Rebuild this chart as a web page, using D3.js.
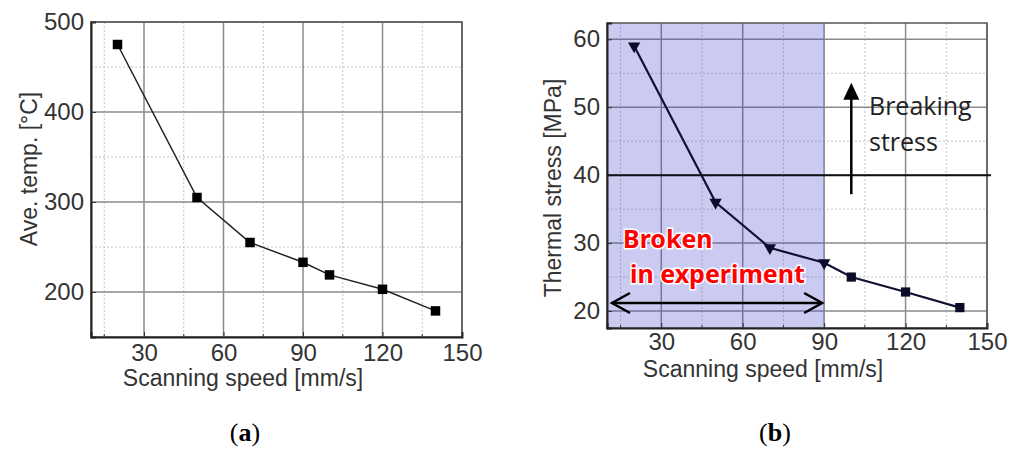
<!DOCTYPE html>
<html>
<head>
<meta charset="utf-8">
<script src="https://cdn.jsdelivr.net/npm/d3@7"></script>
<style>
  body { margin: 0; background: #fff; }
  svg text { font-family: "Liberation Sans", Arial, sans-serif; }
</style>
</head>
<body>
<svg id="chart" width="1017" height="450"></svg>
<script>
// ---- data ----
const speedTicks = [30, 60, 90, 120, 150];
const speedMinor = [15, 45, 75, 105, 135];

// (a) average temperature
const speedsA = [20, 50, 70, 90, 100, 120, 140];
const tempA = [475, 305, 255, 233, 219, 203, 179];
const tempTicks = [200, 300, 400, 500];
const tempMinor = [250, 350, 450];

// (b) thermal stress
const speedsB = [20, 50, 70, 90, 100, 120, 140];
const stressB = [59, 36, 29.3, 27.1, 25, 22.8, 20.5];
const brokenFlags = [true, true, true, true, false, false, false];
const stressTicks = [20, 30, 40, 50, 60];
const stressMinor = [25, 35, 45, 55];
const breakingStress = 40;
const brokenRange = [10, 90];

const svg = d3.select("#chart");

/* ------------------------------
   PANEL HELPER
------------------------------ */
function drawPanel(o) {
    const g = svg.append("g");
    const x = d3.scaleLinear().domain(o.xDomain).range([o.left, o.right]);
    const y = d3.scaleLinear().domain(o.yDomain).range([o.bottom, o.top]);

    // minor dotted grid
    g.selectAll(".vminor").data(speedMinor).enter().append("line")
        .attr("x1", d => x(d)).attr("x2", d => x(d))
        .attr("y1", o.top).attr("y2", o.bottom)
        .attr("stroke", "#c4c4c4").attr("stroke-dasharray", "2,2");
    g.selectAll(".hminor").data(o.yMinor).enter().append("line")
        .attr("x1", o.left).attr("x2", o.right)
        .attr("y1", d => y(d)).attr("y2", d => y(d))
        .attr("stroke", "#c4c4c4").attr("stroke-dasharray", "2,2");

    // major grid
    g.selectAll(".vmajor").data(speedTicks).enter().append("line")
        .attr("x1", d => x(d)).attr("x2", d => x(d))
        .attr("y1", o.top).attr("y2", o.bottom)
        .attr("stroke", "#8a8a8a").attr("stroke-width", 1.5);
    g.selectAll(".hmajor").data(o.yTicks).enter().append("line")
        .attr("x1", o.left).attr("x2", o.right)
        .attr("y1", d => y(d)).attr("y2", d => y(d))
        .attr("stroke", "#8a8a8a").attr("stroke-width", 1.5);

    if (o.beforeFrame) o.beforeFrame(g, x, y);

    // frame
    g.append("rect")
        .attr("x", o.left).attr("y", o.top)
        .attr("width", o.right - o.left).attr("height", o.bottom - o.top)
        .attr("fill", "none").attr("stroke", "#555").attr("stroke-width", 1.5);

    // axes
    const xAxis = g.append("g").attr("transform", `translate(0,${o.bottom})`)
        .call(d3.axisBottom(x).tickValues(speedTicks).tickSize(-5).tickPadding(o.xPad));
    const yAxis = g.append("g").attr("transform", `translate(${o.left},0)`)
        .call(d3.axisLeft(y).tickValues(o.yTicks).tickSize(-5).tickPadding(7));
    [xAxis, yAxis].forEach(a => {
        a.select(".domain").attr("stroke", "#222").attr("stroke-width", 2);
        a.selectAll(".tick line").attr("stroke", "#333");
        a.selectAll("text").attr("fill", "#333").style("font-size", "24px");
    });
    // minor ticks on bottom
    g.selectAll(".mtick").data(speedMinor).enter().append("line")
        .attr("x1", d => x(d)).attr("x2", d => x(d))
        .attr("y1", o.bottom).attr("y2", o.bottom - 3)
        .attr("stroke", "#333");

    // titles
    g.append("text")
        .attr("x", o.xTitleX)
        .attr("y", o.xTitleY)
        .attr("text-anchor", "middle")
        .attr("fill", "#333").style("font-size", "23px")
        .text("Scanning speed [mm/s]");
    g.append("text")
        .attr("transform", `translate(${o.yTitleX},${o.yTitleY}) rotate(-90)`)
        .attr("text-anchor", "middle")
        .attr("dy", "0.35em")
        .attr("fill", "#333").style("font-size", "23px")
        .text(o.yTitle);

    return { g, x, y };
}

/* ------------------------------
   PANEL (a)
------------------------------ */
const pa = drawPanel({
    left: 91, right: 462, top: 22, bottom: 337,
    xDomain: [10, 150], yDomain: [150, 500],
    yTicks: tempTicks, yMinor: tempMinor, xPad: 7,
    xTitleX: 243, xTitleY: 386,
    yTitleX: 29, yTitleY: 169,
    yTitle: "Ave. temp. [°C]"
});

const ptsA = speedsA.map((s, i) => [s, tempA[i]]);
pa.g.append("path")
    .datum(ptsA)
    .attr("d", d3.line().x(d => pa.x(d[0])).y(d => pa.y(d[1])))
    .attr("fill", "none").attr("stroke", "#222").attr("stroke-width", 1.5);
pa.g.selectAll(".sq").data(ptsA).enter().append("path")
    .attr("d", d3.symbol().type(d3.symbolSquare).size(90))
    .attr("transform", d => `translate(${pa.x(d[0])},${pa.y(d[1])})`)
    .attr("fill", "#000");

/* ------------------------------
   PANEL (b)
------------------------------ */
const pb = drawPanel({
    left: 607, right: 987, top: 23, bottom: 328,
    xDomain: [10, 150], yDomain: [17.5, 62.4],
    yTicks: stressTicks, yMinor: stressMinor, xPad: 5,
    xTitleX: 763, xTitleY: 377,
    yTitleX: 553, yTitleY: 188,
    yTitle: "Thermal stress [MPa]",
    beforeFrame: function (g, x, y) {
        g.append("rect")
            .attr("x", x(brokenRange[0])).attr("y", 23)
            .attr("width", x(brokenRange[1]) - x(brokenRange[0]))
            .attr("height", 328 - 23)
            .attr("fill", "#4040d0").attr("fill-opacity", 0.27);
    }
});

// breaking stress line
pb.g.append("line")
    .attr("x1", pb.x(10)).attr("x2", pb.x(151.5))
    .attr("y1", pb.y(breakingStress)).attr("y2", pb.y(breakingStress))
    .attr("stroke", "#111").attr("stroke-width", 2);

const ptsB = speedsB.map((s, i) => [s, stressB[i], brokenFlags[i]]);
pb.g.append("path")
    .datum(ptsB)
    .attr("d", d3.line().x(d => pb.x(d[0])).y(d => pb.y(d[1])))
    .attr("fill", "none").attr("stroke", "#111133").attr("stroke-width", 2.2);
pb.g.selectAll(".mk").data(ptsB).enter().append("path")
    .attr("d", d => d[2]
        ? d3.symbol().type(d3.symbolTriangle).size(66)()
        : d3.symbol().type(d3.symbolSquare).size(85)())
    .attr("transform", d => `translate(${pb.x(d[0])},${pb.y(d[1])})` + (d[2] ? " rotate(180)" : ""))
    .attr("fill", "#0a0a2a");

// arrow up (breaking stress)
const arrowX = pb.x(100);
pb.g.append("line")
    .attr("x1", arrowX).attr("x2", arrowX)
    .attr("y1", pb.y(37.2)).attr("y2", pb.y(51.5))
    .attr("stroke", "#000").attr("stroke-width", 2.5);
pb.g.append("path")
    .attr("d", `M${arrowX - 8},${pb.y(51.1)} L${arrowX},${pb.y(53.6)} L${arrowX + 8},${pb.y(51.1)} Z`)
    .attr("fill", "#000");

pb.g.append("text")
    .attr("x", 869).attr("y", 115)
    .style("font-family", "'Open Sans', 'Noto Sans', sans-serif")
    .style("font-size", "25px").attr("fill", "#222")
    .text("Breaking");
pb.g.append("text")
    .attr("x", 869).attr("y", 151)
    .style("font-family", "'Open Sans', 'Noto Sans', sans-serif")
    .style("font-size", "25px").attr("fill", "#222")
    .text("stress");

// broken in experiment
[["Broken", 623, 248], ["in experiment", 630, 283]].forEach(t => {
    pb.g.append("text")
        .attr("x", t[1]).attr("y", t[2])
        .style("font-family", "'Noto Sans', 'Open Sans', sans-serif")
        .style("font-weight", "bold").style("font-size", "25px")
        .attr("fill", "#ff0000")
        .attr("stroke", "#fff").attr("stroke-width", 3)
        .attr("paint-order", "stroke")
        .text(t[0]);
});

// double-headed arrow over broken range
const ay = 303;
const ax1 = pb.x(brokenRange[0]) + 5, ax2 = pb.x(brokenRange[1]) - 2;
pb.g.append("line")
    .attr("x1", ax1).attr("x2", ax2).attr("y1", ay).attr("y2", ay)
    .attr("stroke", "#000").attr("stroke-width", 2.5);
pb.g.append("path")
    .attr("d", `M${ax1 + 18},${ay - 10} L${ax1},${ay} L${ax1 + 18},${ay + 10}`)
    .attr("fill", "none").attr("stroke", "#000").attr("stroke-width", 2.5);
pb.g.append("path")
    .attr("d", `M${ax2 - 18},${ay - 10} L${ax2},${ay} L${ax2 - 18},${ay + 10}`)
    .attr("fill", "none").attr("stroke", "#000").attr("stroke-width", 2.5);

/* ------------------------------
   CAPTIONS
------------------------------ */
[["a", 245], ["b", 775]].forEach(c => {
    const t = svg.append("text")
        .attr("x", c[1]).attr("y", 441)
        .attr("text-anchor", "middle")
        .style("font-family", "'Liberation Serif', 'Times New Roman', serif")
        .style("font-size", "26px").attr("fill", "#000");
    t.append("tspan").text("(");
    t.append("tspan").style("font-weight", "bold").text(c[0]);
    t.append("tspan").text(")");
});
</script>
</body>
</html>
